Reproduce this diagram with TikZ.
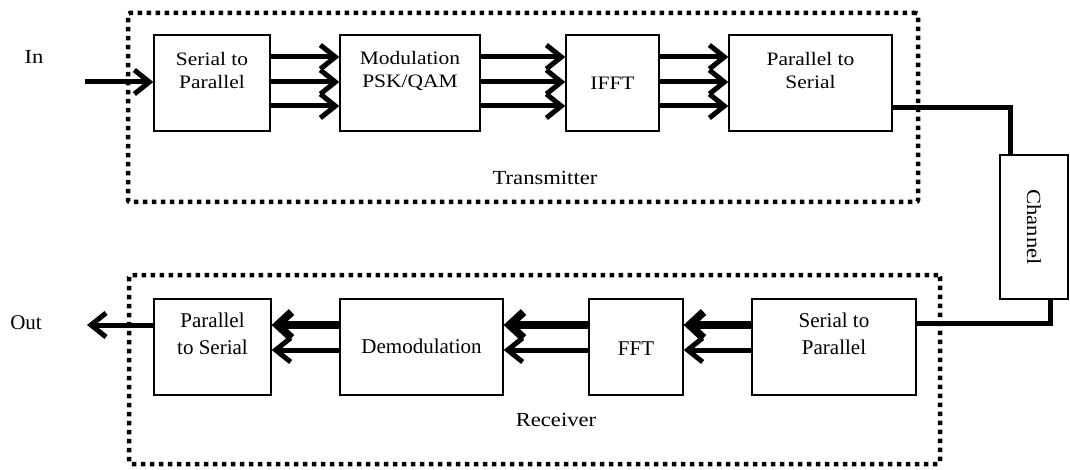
\documentclass[tikz,border=0pt]{standalone}
\usepackage{fontspec}
\setmainfont{Liberation Serif}
\newfontfamily\cambriaish[FakeStretch=1.13]{Liberation Serif}
\usetikzlibrary{arrows.meta,calc}
\begin{document}
\begin{tikzpicture}[x=1pt,y=-1pt,
  blk/.style={draw,line width=1.3pt,fill=white,inner sep=0pt,minimum height=96pt},
  tfont/.style={font=\cambriaish\fontsize{19}{23}\selectfont,align=center,inner sep=0pt},
  lfont/.style={font=\cambriaish\fontsize{20}{24}\selectfont,align=center,inner sep=0pt},
  bfont/.style={font=\fontsize{21}{27}\selectfont,align=center,inner sep=0pt},
  arr/.style={line width=5pt,-{Straight Barb[length=15pt,width=24pt]}},
  arrbig/.style={line width=8pt,-{Straight Barb[length=14pt,width=26pt]}},
  conn/.style={line width=5pt,line join=miter},
  dotbox/.style={draw,line width=4.5pt,dash pattern=on 4.5pt off 4.5pt,rounded corners=2pt,inner sep=0pt}]
\useasboundingbox (0,0) rectangle (1070,470);

% dotted groups
\node[dotbox,minimum width=790pt,minimum height=189pt] (tx) at (523,107.5) {};
\node[dotbox,minimum width=811pt,minimum height=189pt] (rx) at (534.5,369.5) {};

% transmitter blocks
\node[blk,minimum width=116pt] (sp1) at (212,83) {};
\node[blk,minimum width=140pt] (mod) at (410,83) {};
\node[blk,minimum width=93pt] (ifft) at (612.5,83) {};
\node[blk,minimum width=163pt] (ps1) at (810.5,83) {};
% receiver blocks
\node[blk,minimum width=117pt] (ps2) at (212.5,347) {};
\node[blk,minimum width=163pt] (dem) at (421.5,347) {};
\node[blk,minimum width=94pt] (fft) at (636,347) {};
\node[blk,minimum width=164pt] (sp2) at (834,347) {};
% channel
\node[blk,minimum width=68pt,minimum height=144pt] (chan) at (1034,227) {};

% block texts
\node[tfont] (tsp1) at ($(sp1.center)+(0,-12.5)$) {Serial to\\Parallel};
\node[tfont] (tmod) at ($(mod.center)+(0,-12)$) {Modulation\\PSK/QAM};
\node[tfont] (tifft) at ($(ifft.center)+(0,0.5)$) {IFFT};
\node[tfont] (tps1) at ($(ps1.center)+(0,-12.5)$) {Parallel to\\Serial};
\node[bfont] (tps2) at ($(ps2.center)+(0,-13)$) {Parallel\\to Serial};
\node[bfont] (tdem) at ($(dem.center)+(0,-1)$) {Demodulation};
\node[bfont] (tfft) at ($(fft.center)+(0,1.5)$) {FFT};
\node[bfont] (tsp2) at ($(sp2.center)+(0,-13)$) {Serial to\\Parallel};
\node[lfont,rotate=-90] (tchan) at (chan.center) {Channel};

% transmitter arrows
\foreach \a/\b in {sp1/mod,mod/ifft,ifft/ps1}
  \foreach \dy in {-26,-1,23}
    \draw[arr] ($(\a.east)+(0,\dy)$) -- ($(\b.west)+(0,\dy)$);
% receiver arrows
\foreach \a/\b in {sp2/fft,fft/dem,dem/ps2}{
  \draw[arrbig] ($(\a.west)+(0,-22)$) -- ($(\b.east)+(0,-22)$);
  \draw[arr] ($(\a.west)+(0,3)$) -- ($(\b.east)+(0,3)$);
}

% input / output
\coordinate (in) at (85,82);
\draw[arr] (in) -- (sp1.west |- in);
\coordinate (out) at (87,325);
\draw[arr] (ps2.west |- out) -- (out);
\node[lfont] (lin) at (34,57) {In};
\node[bfont] (lout) at (26,323) {Out};

% channel connectors
\coordinate (c1) at (1010,108);
\draw[conn] (ps1.east |- c1) -- (c1) -- (c1 |- chan.north);
\coordinate (c2) at (1050,323);
\draw[conn] (c2 |- chan.south) -- (c2) -- (sp2.east |- c2);

% group labels
\node[lfont] (ltx) at (545,178) {Transmitter};
\node[lfont] (lrx) at (556,420) {Receiver};
\end{tikzpicture}
\end{document}
